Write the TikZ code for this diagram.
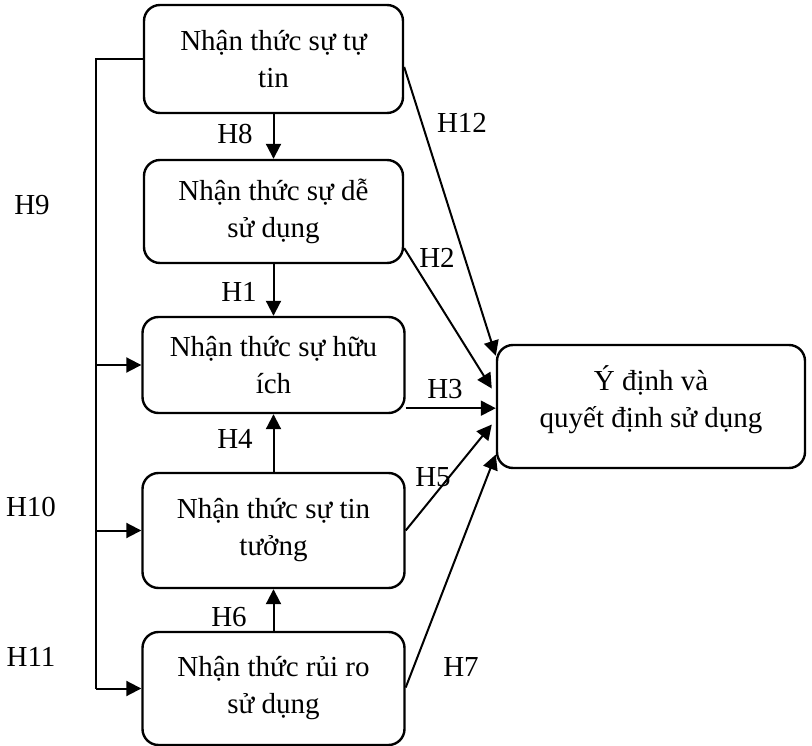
\documentclass[tikz,border=0pt]{standalone}
\usepackage{fontspec}
\setmainfont{Liberation Serif}
\usetikzlibrary{arrows.meta,calc}
\tikzset{
  box/.style={draw, line width=2.4pt, rounded corners=16pt, align=center, inner sep=0pt,
    font=\fontsize{29}{37}\selectfont},
  boxtext/.style={align=center, inner sep=0pt, font=\fontsize{29}{37}\selectfont},
  arr/.style={line width=2pt, -{Triangle[length=15pt,width=15pt]}},
  bus/.style={line width=2.6pt},
  lbl/.style={inner sep=0pt, font=\fontsize{29}{35}\selectfont}
}
\begin{document}
\begin{tikzpicture}[x=1pt,y=-1pt]
\useasboundingbox (0,0) rectangle (812,746);
\node[box, minimum width=259pt, minimum height=108pt] (b1) at (273.5,59) {Nhận thức sự tự\\tin};
\node[box, minimum width=259pt, minimum height=103pt] (b2) at (273.5,211.5) {\rule{0pt}{10pt}Nhận thức sự dễ\\sử dụng};
\node[box, minimum width=262pt, minimum height=96pt] (b3) at (273.5,365) {Nhận thức sự hữu\\ích};
\node[box, minimum width=262pt, minimum height=115pt] (b4) at (273.5,530.5) {Nhận thức sự tin\\tưởng};
\node[box, minimum width=262pt, minimum height=113pt] (b5) at (273.5,688.5) {Nhận thức rủi ro\\sử dụng};
\node[box, minimum width=308pt, minimum height=123pt] (r) at (651,406.5) {};
\node[boxtext] (rt) at ([yshift=7pt]r.center) {Ý định và\\quyết định sử dụng};

% vertical arrows
\draw[arr] (b1.south) -- (b2.north);
\draw[arr] (b2.south) -- (b3.north);
\draw[arr] (b4.north) -- (b3.south);
\draw[arr] (b5.north) -- (b4.south);

% left bus
\coordinate (lt) at ([xshift=-47pt]b1.west);
\draw[bus] (b1.west) -- (lt) -- (lt |- b5.west);
\draw[arr] (lt |- b5.west) -- (b5.west);
\draw[arr] (lt |- b3.west) -- (b3.west);
\draw[arr] (lt |- b4.west) -- (b4.west);

% arrows to the right box
\draw[arr] ([yshift=-8pt]b1.east) -- ([yshift=-12pt]r.north west);
\draw[arr] ([yshift=16pt]b2.south east) -- ([xshift=-4pt,yshift=18pt]r.west);
\coordinate (h3s) at ([yshift=6pt]b3.south east);
\draw[arr] (h3s) -- (h3s -| r.west);
\draw[arr] (b4.east) -- ([xshift=-4pt,yshift=-18pt]r.west);
\draw[arr] ([yshift=1pt]b5.east) -- ([yshift=-48pt]r.west);

% labels
\node[lbl] (l12) at (462,123) {H12};
\node[lbl] (l2) at (437,258) {H2};
\node[lbl] (l3) at (445,389) {H3};
\node[lbl] (l5) at (433,477) {H5};
\node[lbl] (l7) at (461,667) {H7};
\node[lbl] (l8) at (235,134) {H8};
\node[lbl] (l1) at (239,292) {H1};
\node[lbl] (l4) at (235,439) {H4};
\node[lbl] (l6) at (229,617) {H6};
\node[lbl] (l9) at (32,205) {H9};
\node[lbl] (l10) at (31,507) {H10};
\node[lbl] (l11) at (31,657) {H11};
\end{tikzpicture}
\end{document}
